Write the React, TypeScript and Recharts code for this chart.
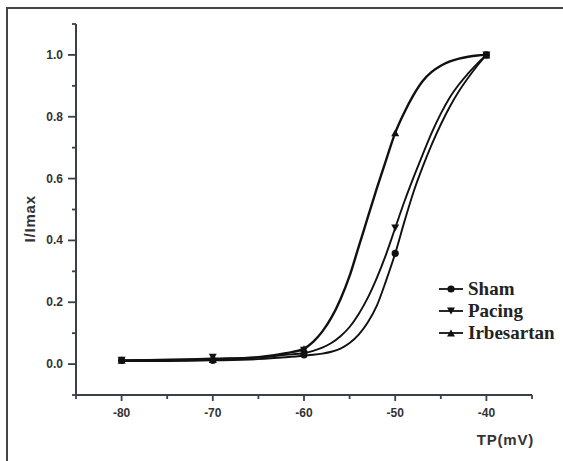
import { ComposedChart, Line, Scatter, XAxis, YAxis } from 'recharts';

// fitted curves at these voltages
const fitV = [-80, -75, -70, -65, -62, -60, -59, -58, -57, -56, -55, -54, -53, -52, -51, -50, -49, -48, -47, -46, -45, -44, -43, -42, -41, -40];
const shamFit = [0.01, 0.01, 0.012, 0.016, 0.022, 0.027, 0.03, 0.034, 0.04, 0.05, 0.068, 0.095, 0.135, 0.19, 0.27, 0.358, 0.46, 0.556, 0.637, 0.71, 0.775, 0.833, 0.883, 0.926, 0.965, 1.0];
const pacingFit = [0.012, 0.014, 0.018, 0.022, 0.03, 0.036, 0.043, 0.053, 0.068, 0.09, 0.12, 0.162, 0.215, 0.28, 0.355, 0.44, 0.525, 0.603, 0.677, 0.748, 0.81, 0.863, 0.905, 0.94, 0.972, 1.0];
const irbeFit = [0.012, 0.013, 0.015, 0.022, 0.035, 0.05, 0.072, 0.105, 0.15, 0.21, 0.285, 0.38, 0.475, 0.57, 0.66, 0.748, 0.814, 0.87, 0.915, 0.945, 0.965, 0.979, 0.988, 0.994, 0.998, 1.0];

// measured points
const pointV = [-80, -70, -60, -50, -40];
const shamPts = [0.012, 0.012, 0.03, 0.358, 1.0];
const pacingPts = [0.012, 0.022, 0.045, 0.44, 1.0];
const irbePts = [0.012, 0.015, 0.05, 0.748, 1.0];

const xTicks = [-85, -80, -75, -70, -65, -60, -55, -50, -45, -40, -35];
const yTicks = [-0.1, 0, 0.1, 0.2, 0.3, 0.4, 0.5, 0.6, 0.7, 0.8, 0.9, 1.0, 1.1];

const seriesNames = ['Sham', 'Pacing', 'Irbesartan'];

const fitData = fitV.map((v, i) => ({ v, sham: shamFit[i], pacing: pacingFit[i], irbe: irbeFit[i] }));
const toPts = (vals: number[]) => pointV.map((v, i) => ({ v, i: vals[i] }));

const axisColor = '#3a4049';
const lineColor = '#111';
const sansFont = '"Liberation Sans", Arial, sans-serif';

const Circle = ({ cx, cy }: any) => <circle cx={cx} cy={cy} r={3.6} fill={lineColor} />;
const Down = ({ cx, cy }: any) => (
  <polygon points={`${cx - 4},${cy - 3.5} ${cx + 4},${cy - 3.5} ${cx},${cy + 3.5}`} fill={lineColor} />
);
const Up = ({ cx, cy }: any) => (
  <polygon points={`${cx - 4},${cy + 3.5} ${cx + 4},${cy + 3.5} ${cx},${cy - 3.5}`} fill={lineColor} />
);

const XTick = (props: any) => {
  const { x, y, payload } = props;
  const v = payload.value;
  const major = v % 10 === 0;
  return (
    <g>
      <line x1={x} y1={y} x2={x} y2={y + (major ? 6 : 4)} stroke={axisColor} strokeWidth={1.8} />
      {major && (
        <text x={x} y={y + 22} textAnchor="middle" fontSize={12} fontWeight="bold" fill="#333" fontFamily={sansFont}>
          {v}
        </text>
      )}
    </g>
  );
};

const YTick = (props: any) => {
  const { x, y, payload } = props;
  const v = payload.value;
  const major = Math.round(v * 10) % 2 === 0;
  return (
    <g>
      <line x1={x - (major ? 8 : 4)} y1={y} x2={x} y2={y} stroke={axisColor} strokeWidth={1.8} />
      {major && (
        <text x={x - 13} y={y + 4} textAnchor="end" fontSize={12} fontWeight="bold" fill="#333" fontFamily={sansFont}>
          {v.toFixed(1)}
        </text>
      )}
    </g>
  );
};

const XLabel = ({ viewBox }: any) => (
  <text
    x={viewBox.x + viewBox.width + 2}
    y={viewBox.y + 50}
    textAnchor="end"
    fontSize={15}
    fontWeight="bold"
    letterSpacing={0.8}
    fill="#333"
    fontFamily={sansFont}
  >
    TP(mV)
  </text>
);

const YLabel = ({ viewBox }: any) => {
  const cx = viewBox.x + 14;
  const cy = viewBox.y + viewBox.height * 0.525;
  return (
    <text
      x={cx}
      y={cy}
      transform={`rotate(-90, ${cx}, ${cy})`}
      textAnchor="middle"
      dominantBaseline="central"
      fontSize={15}
      fontWeight="bold"
      letterSpacing={0.8}
      fill="#333"
      fontFamily={sansFont}
    >
      I/Imax
    </text>
  );
};

const LegendIcon = ({ index }: { index: number }) => (
  <svg width={24} height={12} style={{ marginRight: 5 }}>
    <line x1={0} y1={6} x2={24} y2={6} stroke={lineColor} strokeWidth={1.8} />
    {index === 0 && <Circle cx={12} cy={6} />}
    {index === 1 && <Down cx={12} cy={6} />}
    {index === 2 && <Up cx={12} cy={6} />}
  </svg>
);

export default function App() {
  return (
    <div style={{ position: 'absolute', left: 0, top: 0, width: 563, height: 461, background: '#fff', overflow: 'hidden' }}>
      {/* frame of the figure panel */}
      <div style={{ position: 'absolute', left: 6, top: 7, width: 600, height: 500, borderTop: '2px solid #444', borderLeft: '2px solid #444' }} />
      <ComposedChart width={563} height={461} data={fitData} margin={{ top: 24, right: 31, bottom: 26, left: 16 }}>
        <XAxis
          dataKey="v"
          type="number"
          domain={[-85, -35]}
          ticks={xTicks}
          interval={0}
          tickSize={0}
          tickMargin={0}
          tickLine={false}
          tick={<XTick />}
          height={40}
          axisLine={{ stroke: axisColor, strokeWidth: 2 }}
          allowDataOverflow
          label={<XLabel />}
        />
        <YAxis
          type="number"
          domain={[-0.1, 1.1]}
          ticks={yTicks}
          interval={0}
          tickSize={0}
          tickMargin={0}
          tickLine={false}
          tick={<YTick />}
          width={60}
          axisLine={{ stroke: axisColor, strokeWidth: 2 }}
          allowDataOverflow
          label={<YLabel />}
        />
        <Line type="monotone" dataKey="sham" stroke={lineColor} strokeWidth={1.9} dot={false} isAnimationActive={false} />
        <Line type="monotone" dataKey="pacing" stroke={lineColor} strokeWidth={1.9} dot={false} isAnimationActive={false} />
        <Line type="monotone" dataKey="irbe" stroke={lineColor} strokeWidth={2.4} dot={false} isAnimationActive={false} />
        <Scatter data={toPts(shamPts)} dataKey="i" shape={Circle} isAnimationActive={false} />
        <Scatter data={toPts(pacingPts)} dataKey="i" shape={Down} isAnimationActive={false} />
        <Scatter data={toPts(irbePts)} dataKey="i" shape={Up} isAnimationActive={false} />
      </ComposedChart>
      <div
        style={{
          position: 'absolute',
          left: 439,
          top: 278,
          fontFamily: '"Liberation Serif", "Times New Roman", serif',
          fontWeight: 'bold',
          fontSize: 19,
          color: '#222',
          lineHeight: '22px',
        }}
      >
        {seriesNames.map((name, i) => (
          <div key={name} style={{ display: 'flex', alignItems: 'center', height: 22 }}>
            <LegendIcon index={i} />
            <span>{name}</span>
          </div>
        ))}
      </div>
    </div>
  );
}
